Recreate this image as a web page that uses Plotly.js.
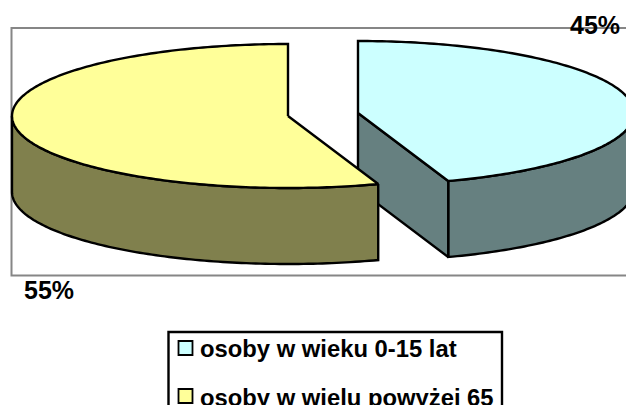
<!DOCTYPE html>
<html><head><meta charset="utf-8">
<script src="https://cdn.plot.ly/plotly-3.0.1.min.js"></script>
<style>html,body{margin:0;padding:0;background:#fff;overflow:hidden}</style></head>
<body><div id="chart" style="width:626px;height:405px"></div>
<script>
const categories = ['osoby w wieku 0-15 lat', 'osoby w wielu powyżej 65'];
const values = [44.7, 55.3];
const topColors = ['#CCFFFF', '#FFFF99'];
const sideColors = ['#668080', '#80804D'];
const centers = [[358, 113], [288, 116]];
const RX = 276, RY = 72, DEPTH = 76;
const FONT = 'Liberation Sans, Arial, sans-serif';

const total = values.reduce((a, b) => a + b, 0);
const splitDeg = values[0] / total * 360;

function pt(c, deg, dy) {
  const r = deg * Math.PI / 180;
  return [c[0] + RX * Math.sin(r), c[1] - RY * Math.cos(r) + (dy || 0)];
}
function arc(c, from, to, dy) {
  const out = [], n = Math.ceil(Math.abs(to - from));
  for (let i = 0; i <= n; i++) out.push(pt(c, from + (to - from) * i / n, dy));
  return out;
}
function poly(points, color) {
  return {
    type: 'scatter', mode: 'lines', hoverinfo: 'skip', showlegend: false,
    x: points.map(p => p[0]), y: points.map(p => p[1]),
    fill: 'toself', fillcolor: color,
    line: {color: '#000', width: 2.4, simplify: false}
  };
}
function close(p) { return p.concat([p[0]]); }

const c0 = centers[0], c1 = centers[1];
const traces = [];
// first slice: outer wall, cut face, top
traces.push(poly(close(arc(c0, 90, splitDeg).concat(arc(c0, splitDeg, 90, DEPTH))), sideColors[0]));
traces.push(poly(close([c0, pt(c0, splitDeg), pt(c0, splitDeg, DEPTH), [c0[0], c0[1] + DEPTH]]), sideColors[0]));
traces.push(poly(close([c0].concat(arc(c0, 0, splitDeg))), topColors[0]));
// second slice: outer wall, top
traces.push(poly(close(arc(c1, splitDeg, 270).concat(arc(c1, 270, splitDeg, DEPTH))), sideColors[1]));
traces.push(poly(close([c1].concat(arc(c1, splitDeg, 360))), topColors[1]));
// legend swatches
const legendY = [348, 396];
traces.push({
  type: 'scatter', mode: 'markers', hoverinfo: 'skip', showlegend: false,
  x: categories.map(() => 185.5), y: legendY,
  marker: {symbol: 'square', size: 14, color: topColors, line: {color: '#000', width: 1.8}}
});

const pct = v => '<b>' + Math.round(v) + '%</b>';
const annotations = [
  {x: 621, y: 25, xanchor: 'right', yanchor: 'middle', text: pct(values[0])},
  {x: 23, y: 290, xanchor: 'left', yanchor: 'middle', text: pct(values[1])}
].map(a => Object.assign(a, {xref: 'x', yref: 'y', showarrow: false,
  font: {family: FONT, size: 25, color: '#000'}, borderpad: 0}));
const legendTextY = [348, 397];
categories.forEach((c, i) => annotations.push({
  xref: 'x', yref: 'y', x: 199, y: legendTextY[i], xanchor: 'left', yanchor: 'middle',
  showarrow: false, text: '<b>' + c + '</b>', font: {family: FONT, size: 23.8, color: '#000'}, borderpad: 0
}));

const layout = {
  width: 626, height: 405,
  margin: {l: 0, r: 0, t: 0, b: 0},
  paper_bgcolor: '#fff', plot_bgcolor: '#fff',
  showlegend: false,
  xaxis: {range: [0, 626], visible: false, fixedrange: true},
  yaxis: {range: [405, 0], visible: false, fixedrange: true},
  shapes: [
    {type: 'rect', layer: 'below', xref: 'x', yref: 'y', x0: 11.5, x1: 640, y0: 28, y1: 275.5, line: {color: '#868686', width: 2}},
    {type: 'rect', layer: 'below', xref: 'x', yref: 'y', x0: 168.5, x1: 502, y0: 332, y1: 420, line: {color: '#000', width: 2.4}}
  ],
  annotations: annotations
};
Plotly.newPlot('chart', traces, layout, {displayModeBar: false, staticPlot: true});
</script></body></html>
